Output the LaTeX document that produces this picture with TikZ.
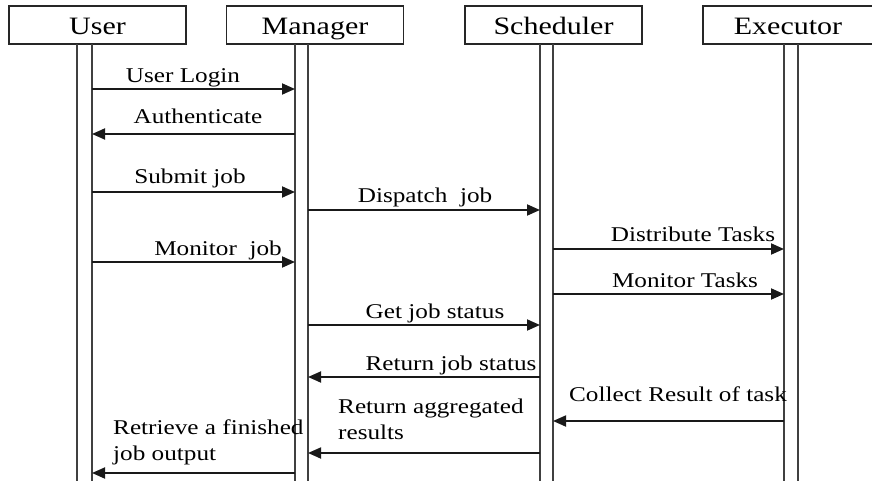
\documentclass[tikz,border=0pt]{standalone}
\usepackage{fontspec}
\setmainfont[FakeStretch=1.2]{Liberation Serif}
\usetikzlibrary{arrows.meta}
\begin{document}
\begin{tikzpicture}[x=1pt,y=-1pt,
  actor/.style={draw=black!85,line width=1.3pt,minimum width=177pt,minimum height=38pt,inner sep=0pt,text height=19pt,text depth=0pt,font=\fontsize{25}{30}\selectfont},
  life/.style={draw=black!75,line width=1.4pt},
  msg/.style={draw=black!90,line width=1.8pt,-{Triangle[length=13pt,width=11pt]}},
  lbl/.style={inner sep=0pt,anchor=base,font=\fontsize{21}{26}\selectfont},
  lbl2/.style={inner sep=0pt,anchor=north west,align=left,font=\fontsize{21}{26}\selectfont}]
\useasboundingbox (0,0) rectangle (872,481);
% actors
\node[actor] (user) at (97.5,25) {User};
\node[actor] (mgr) at (315,25) {Manager};
\node[actor] (sch) at (553.5,25) {Scheduler};
\node[actor,minimum width=170pt] (exe) at (788,25) {Executor};
% lifeline coordinates
\coordinate (uL) at (77,44);  \coordinate (uR) at (92,44);
\coordinate (mL) at (295,44); \coordinate (mR) at (308,44);
\coordinate (sL) at (540,44); \coordinate (sR) at (553,44);
\coordinate (eL) at (784,44); \coordinate (eR) at (798,44);
\foreach \c in {uL,uR,mL,mR,sL,sR,eL,eR}
  \draw[life] (\c) -- (\c |- 0,481);
% messages
\draw[msg] (uR |- 0,89) -- (mL |- 0,89);
\node[lbl] (t1) at (183,83) {User Login};
\draw[msg] (mL |- 0,134) -- (uR |- 0,134);
\node[lbl] (t2) at (198,124) {Authenticate};
\draw[msg] (uR |- 0,192) -- (mL |- 0,192);
\node[lbl] (t3) at (190,183) {Submit job};
\draw[msg] (mR |- 0,210) -- (sL |- 0,210);
\node[lbl] (t4) at (425,203) {Dispatch\ \ job};
\draw[msg] (sR |- 0,249) -- (eL |- 0,249);
\node[lbl] (t5) at (693,241) {Distribute Tasks};
\draw[msg] (uR |- 0,262) -- (mL |- 0,262);
\node[lbl] (t6) at (218,255) {Monitor\ \ job};
\draw[msg] (sR |- 0,294) -- (eL |- 0,294);
\node[lbl] (t7) at (685,287) {Monitor Tasks};
\draw[msg] (mR |- 0,325) -- (sL |- 0,325);
\node[lbl] (t8) at (435,318) {Get job status};
\draw[msg] (sL |- 0,377) -- (mR |- 0,377);
\node[lbl] (t9) at (451,370) {Return job status};
\draw[msg] (eL |- 0,421) -- (sR |- 0,421);
\node[lbl] (t10) at (678,401) {Collect Result of task};
\draw[msg] (sL |- 0,453) -- (mR |- 0,453);
\node[lbl2] (t11) at (338,398.5) {Return aggregated\\results};
\draw[msg] (mL |- 0,473) -- (uR |- 0,473);
\node[lbl2] (t12) at (113,419.5) {Retrieve a finished\\job output};
\end{tikzpicture}
\end{document}
